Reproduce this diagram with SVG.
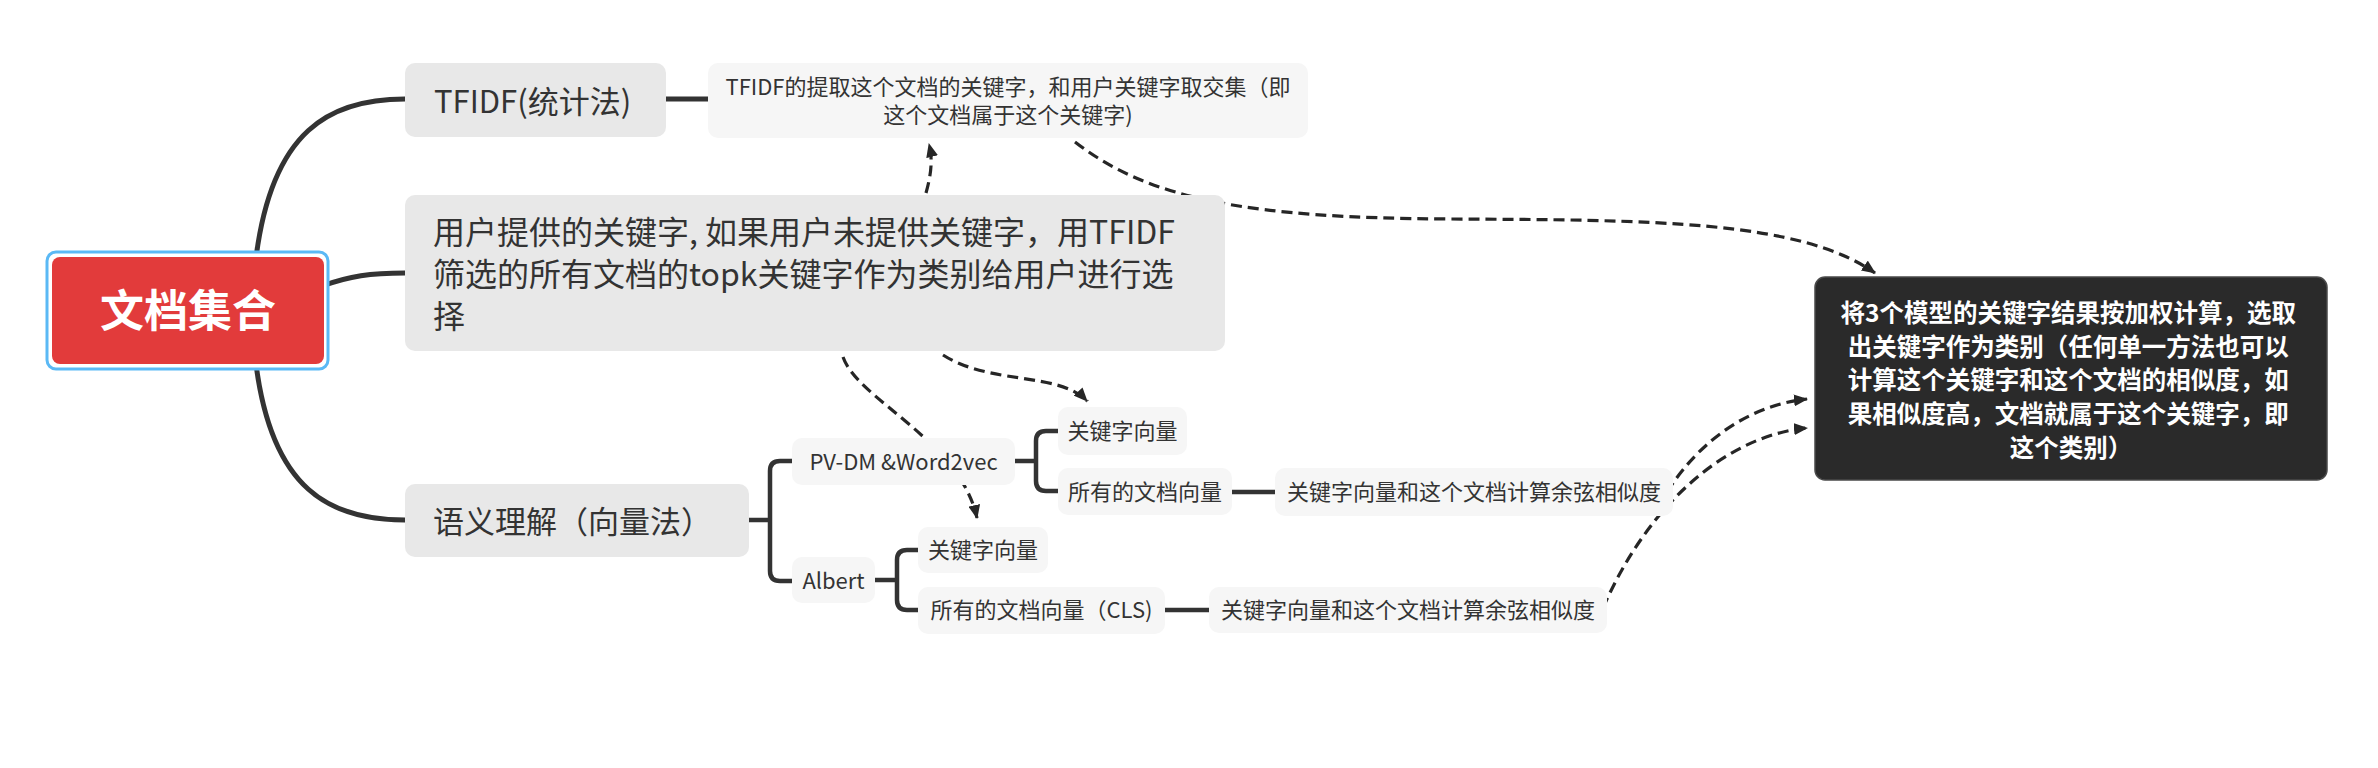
<svg xmlns="http://www.w3.org/2000/svg" width="2378" height="768" viewBox="0 0 2378 768">
<defs>
<style>
text{font-family:"Noto Sans CJK SC","Noto Sans",sans-serif;fill:#333}
.main{fill:#e8e8e8}
.leaf{fill:#f6f6f6}
.t31{font-size:31px}
.t32{font-size:32px}
.t22{font-size:22px}
.mid{text-anchor:middle}
.line{fill:none;stroke:#333;stroke-width:5;stroke-linecap:round}
.br{fill:none;stroke:#333;stroke-width:4.5}
.dash{fill:none;stroke:#262626;stroke-width:3.2;stroke-dasharray:11 6;marker-end:url(#arr)}
</style>
<marker id="arr" viewBox="0 0 14 12" refX="13" refY="6" markerWidth="14" markerHeight="12" markerUnits="userSpaceOnUse" orient="auto">
<path d="M0,0 L14,6 L0,12 Z" fill="#262626"/>
</marker>
</defs>
<rect width="2378" height="768" fill="#ffffff"/>

<g id="connectors">
<path class="line" d="M256 258 C272 130 330 99 405 99"/>
<path class="line" d="M322 286 C350 276 370 273 405 273"/>
<path class="line" d="M256 364 C272 490 330 520 405 520"/>
<path class="line" d="M666 99 H708"/>
<path class="br" d="M749 520 H770 M792 461 H780 Q770 461 770 471 V571 Q770 581 780 581 H792"/>
<path class="br" d="M1015 461 H1036 M1058 431 H1046 Q1036 431 1036 441 V481 Q1036 491 1046 491 H1058"/>
<path class="br" d="M875 580 H897 M918 550 H907 Q897 550 897 560 V600 Q897 610 907 610 H918"/>
<path class="br" d="M1232 492 H1275"/>
<path class="br" d="M1165 610 H1209"/>
<path class="dash" d="M926 193 C931 175 933 160 929 144"/>
<path class="dash" d="M1075 142 C1150 200 1250 218 1450 219 C1650 220 1800 220 1875 273"/>
<path class="dash" d="M943 355 C990 385 1060 372 1087 401"/>
<path class="dash" d="M843 357 C858 400 960 440 977 518"/>
<path class="dash" d="M1667 492 C1700 440 1750 405 1807 399"/>
<path class="dash" d="M1603 608 C1650 500 1730 435 1807 428"/>
</g>

<g id="root">
<rect x="47" y="252" width="281" height="117" rx="9" fill="#ffffff" stroke="#5bb9f5" stroke-width="3"/>
<rect x="52" y="257" width="272" height="107" rx="8" fill="#e23b3b"/>
<text x="188" y="327" class="mid" style="font-size:44px;font-weight:bold;fill:#ffffff">文档集合</text>
</g>

<g id="n-tfidf">
<rect class="main" x="405" y="63" width="261" height="74" rx="10"/>
<text x="434" y="113" class="t31">TFIDF(统计法)</text>
</g>

<g id="n-tfidf-leaf">
<rect class="leaf" x="708" y="63" width="600" height="75" rx="10"/>
<text x="1008" y="95" class="t22 mid">TFIDF的提取这个文档的关键字，和用户关键字取交集（即</text>
<text x="1008" y="123" class="t22 mid">这个文档属于这个关键字)</text>
</g>

<g id="n-user">
<rect class="main" x="405" y="195" width="820" height="156" rx="10"/>
<text x="433" y="244" class="t32">用户提供的关键字, 如果用户未提供关键字，用TFIDF</text>
<text x="433" y="286" class="t32">筛选的所有文档的topk关键字作为类别给用户进行选</text>
<text x="433" y="328" class="t32">择</text>
</g>

<g id="n-semantic">
<rect class="main" x="405" y="484" width="344" height="73" rx="10"/>
<text x="433" y="533" class="t31">语义理解（向量法）</text>
</g>

<g id="n-pvdm">
<rect class="leaf" x="792" y="438" width="223" height="47" rx="10"/>
<text x="903.5" y="470" class="t22 mid">PV-DM &amp;Word2vec</text>
</g>

<g id="n-pv-kw">
<rect class="leaf" x="1058" y="407" width="129" height="48" rx="10"/>
<text x="1122.5" y="439" class="t22 mid">关键字向量</text>
</g>

<g id="n-pv-doc">
<rect class="leaf" x="1058" y="468" width="174" height="47" rx="10"/>
<text x="1145" y="500" class="t22 mid">所有的文档向量</text>
</g>

<g id="n-pv-cos">
<rect class="leaf" x="1275" y="468" width="398" height="48" rx="10"/>
<text x="1474" y="500" class="t22 mid">关键字向量和这个文档计算余弦相似度</text>
</g>

<g id="n-albert">
<rect class="leaf" x="792" y="557" width="83" height="46" rx="10"/>
<text x="833.5" y="589" class="t22 mid">Albert</text>
</g>

<g id="n-al-kw">
<rect class="leaf" x="918" y="527" width="130" height="46" rx="10"/>
<text x="983" y="558" class="t22 mid">关键字向量</text>
</g>

<g id="n-al-doc">
<rect class="leaf" x="918" y="587" width="247" height="47" rx="10"/>
<text x="1041.5" y="618" class="t22 mid">所有的文档向量（CLS)</text>
</g>

<g id="n-al-cos">
<rect class="leaf" x="1209" y="587" width="398" height="46" rx="10"/>
<text x="1408" y="618" class="t22 mid">关键字向量和这个文档计算余弦相似度</text>
</g>

<g id="n-result">
<rect x="1815" y="277" width="512" height="203" rx="10" fill="#2a2a2a" stroke="#4a4a4a" stroke-width="1.5"/>
<text class="mid" style="font-size:24.5px;font-weight:bold;fill:#ffffff">
<tspan x="2071" y="322">将3个模型的关键字结果按加权计算，选取</tspan>
<tspan x="2071" y="356">出关键字作为类别（任何单一方法也可以</tspan>
<tspan x="2071" y="389">计算这个关键字和这个文档的相似度，如</tspan>
<tspan x="2071" y="423">果相似度高，文档就属于这个关键字，即</tspan>
<tspan x="2071" y="457">这个类别）</tspan>
</text>
</g>
</svg>
